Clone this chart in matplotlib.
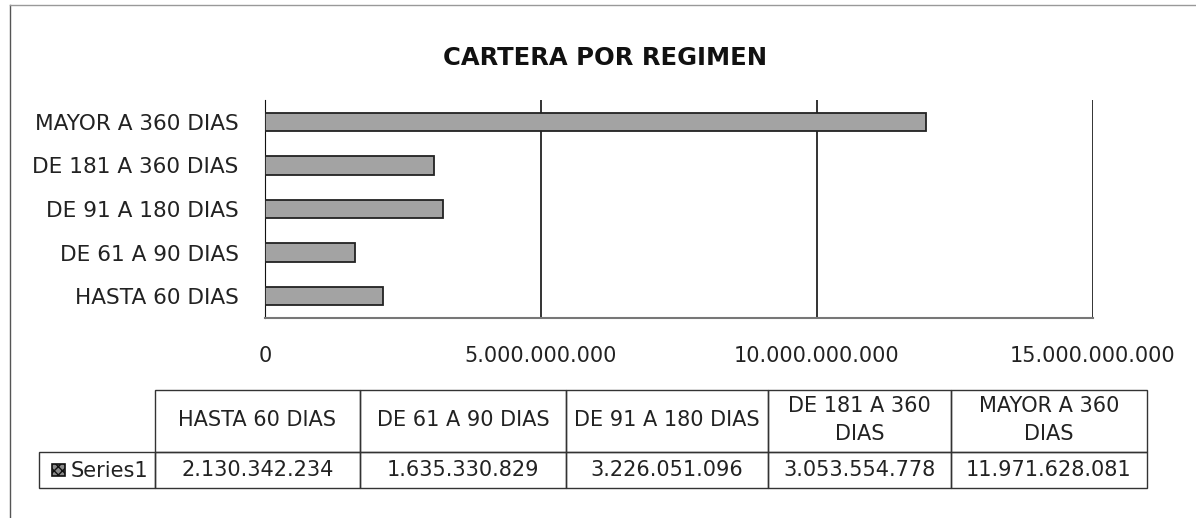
import matplotlib

matplotlib.use("Agg")

import matplotlib.pyplot as plt
from matplotlib.patches import Rectangle

# =========================================================
# DATA
# =========================================================

categories = [
    "HASTA 60 DIAS",
    "DE 61 A 90 DIAS",
    "DE 91 A 180 DIAS",
    "DE 181 A 360 DIAS",
    "MAYOR A 360 DIAS",
]

table_headers = [
    "HASTA 60 DIAS",
    "DE 61 A 90 DIAS",
    "DE 91 A 180 DIAS",
    "DE 181 A 360\nDIAS",
    "MAYOR A 360\nDIAS",
]

values = [
    2130342234,
    1635330829,
    3226051096,
    3053554778,
    11971628081,
]

x_ticks = [0, 5000000000, 10000000000, 15000000000]

series_name = "Series1"

title = "CARTERA POR REGIMEN"


def fmt(v):
    return "{:,}".format(v).replace(",", ".")


plt.rcParams["font.family"] = ["DejaVu Sans"]

W, H = 1196, 518

fig = plt.figure(figsize=(W / 100, H / 100), dpi=100)

# =========================================================
# BAR CHART
# =========================================================

ax = fig.add_axes([265 / W, 1 - 318 / H, (1093 - 265) / W, 218 / H])

ax.barh(
    range(len(categories)),
    values,
    height=0.42,
    color="#a3a3a3",
    edgecolor="#222222",
    linewidth=1.3,
    zorder=3,
)

ax.set_xlim(0, 15000000000)
ax.set_ylim(-0.5, len(categories) - 0.5)

ax.set_yticks(range(len(categories)))
ax.set_yticklabels(categories, fontsize=15.6, color="#222222")

ax.set_xticks(x_ticks)
ax.set_xticklabels([fmt(t) for t in x_ticks], fontsize=15, color="#222222")

ax.tick_params(axis="both", length=0)
ax.tick_params(axis="y", pad=19)
ax.tick_params(axis="x", pad=20)

ax.grid(axis="x", color="#111111", linewidth=1.2, zorder=0)

for side in ["top", "right"]:
    ax.spines[side].set_visible(False)

ax.spines["left"].set_color("#111111")
ax.spines["bottom"].set_color("#777777")
ax.spines["bottom"].set_linewidth(1.5)

fig.text(605 / W, 1 - 58 / H, title, ha="center", va="center",
         fontsize=17.5, fontweight="semibold", color="#111111")

# =========================================================
# DATA TABLE
# =========================================================

tab = fig.add_axes([0, 0, 1, 1])
tab.set_xlim(0, W)
tab.set_ylim(H, 0)
tab.axis("off")

col_edges = [155, 360, 566, 768, 951, 1147]
head_top, head_bot, row_bot = 390, 452, 488

for i, label in enumerate(table_headers):
    x0, x1 = col_edges[i], col_edges[i + 1]
    tab.add_patch(Rectangle((x0, head_top), x1 - x0, head_bot - head_top,
                            fill=False, edgecolor="#333333", linewidth=1))
    tab.add_patch(Rectangle((x0, head_bot), x1 - x0, row_bot - head_bot,
                            fill=False, edgecolor="#333333", linewidth=1))
    tab.text((x0 + x1) / 2, (head_top + head_bot) / 2 - 1, label,
             ha="center", va="center", fontsize=15, color="#222222",
             linespacing=1.45)
    tab.text((x0 + x1) / 2, (head_bot + row_bot) / 2, fmt(values[i]),
             ha="center", va="center", fontsize=15, color="#222222")

tab.add_patch(Rectangle((39, head_bot), col_edges[0] - 39, row_bot - head_bot,
                        fill=False, edgecolor="#333333", linewidth=1))
tab.add_patch(Rectangle((52, 464), 13, 12, facecolor="#8a8a8a",
                        edgecolor="#111111", linewidth=1.2, hatch="xxxx"))
tab.text(71, (head_bot + row_bot) / 2 + 1, series_name, ha="left",
         va="center", fontsize=15, color="#222222")

# figure frame
tab.plot([10, 10], [5, H], color="#555555", linewidth=1)
tab.plot([10, W], [5, 5], color="#999999", linewidth=1)

fig.savefig("out.png", dpi=100, facecolor="white")
